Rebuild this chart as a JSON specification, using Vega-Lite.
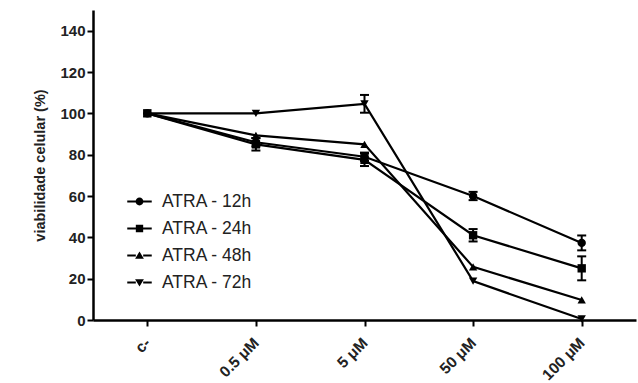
{
  "$schema": "https://vega.github.io/schema/vega-lite/v6.json",
  "autosize": "none",
  "padding": {"left": 93, "top": 10, "right": 2, "bottom": 63},
  "width": 543,
  "height": 310,
  "background": "white",
  "config": {
    "view": {"stroke": null},
    "font": "Liberation Sans"
  },
  "data": {
    "values": [
      {"dose": "c-", "series": "ATRA - 12h", "value": 100, "err": 0},
      {"dose": "0.5 μM", "series": "ATRA - 12h", "value": 86, "err": 2},
      {"dose": "5 μM", "series": "ATRA - 12h", "value": 79, "err": 2},
      {"dose": "50 μM", "series": "ATRA - 12h", "value": 60, "err": 2},
      {"dose": "100 μM", "series": "ATRA - 12h", "value": 37.3, "err": 3.6},
      {"dose": "c-", "series": "ATRA - 24h", "value": 100, "err": 0},
      {"dose": "0.5 μM", "series": "ATRA - 24h", "value": 85, "err": 3},
      {"dose": "5 μM", "series": "ATRA - 24h", "value": 77.5, "err": 3},
      {"dose": "50 μM", "series": "ATRA - 24h", "value": 41, "err": 3},
      {"dose": "100 μM", "series": "ATRA - 24h", "value": 25, "err": 5.8},
      {"dose": "c-", "series": "ATRA - 48h", "value": 100, "err": 0},
      {"dose": "0.5 μM", "series": "ATRA - 48h", "value": 89.3, "err": 0},
      {"dose": "5 μM", "series": "ATRA - 48h", "value": 85, "err": 0},
      {"dose": "50 μM", "series": "ATRA - 48h", "value": 25.7, "err": 0},
      {"dose": "100 μM", "series": "ATRA - 48h", "value": 9.7, "err": 0},
      {"dose": "c-", "series": "ATRA - 72h", "value": 100, "err": 0},
      {"dose": "0.5 μM", "series": "ATRA - 72h", "value": 100, "err": 0},
      {"dose": "5 μM", "series": "ATRA - 72h", "value": 104.6, "err": 4.3},
      {"dose": "50 μM", "series": "ATRA - 72h", "value": 18.8, "err": 0},
      {"dose": "100 μM", "series": "ATRA - 72h", "value": 0.5, "err": 0}
    ]
  },
  "encoding": {
    "x": {
      "field": "dose", "type": "ordinal",
      "sort": ["c-", "0.5 μM", "5 μM", "50 μM", "100 μM"],
      "scale": {"type": "point", "padding": 0.5},
      "axis": {
        "title": null, "labelAngle": -45, "labelAlign": "right", "labelBaseline": "middle",
        "labelFontSize": 15.5, "labelFontWeight": "bold",
        "labelColor": "#222", "domainColor": "black", "domainWidth": 2.5, "tickColor": "black",
        "tickWidth": 2, "tickSize": 6, "labelPadding": 14, "grid": false
      }
    },
    "y": {
      "field": "value", "type": "quantitative",
      "scale": {"domain": [0, 150], "nice": false, "zero": true},
      "axis": {
        "title": "viabilidade celular (%)", "values": [0, 20, 40, 60, 80, 100, 120, 140],
        "titleFontSize": 14.5, "titleFontWeight": "bold", "titleColor": "#222", "titlePadding": 12,
        "labelFontSize": 15, "labelFontWeight": "bold", "labelColor": "#222",
        "domainColor": "black", "domainWidth": 2.5, "tickColor": "black", "tickWidth": 2,
        "tickSize": 6, "labelPadding": 2, "grid": false
      }
    }
  },
  "layer": [
    {
      "mark": {"type": "line", "color": "black"},
      "encoding": {
        "detail": {"field": "series"},
        "strokeWidth": {
          "field": "series", "type": "nominal",
          "scale": {"domain": ["ATRA - 12h", "ATRA - 24h", "ATRA - 48h", "ATRA - 72h"], "range": [2.2, 2.2, 1.7, 1.3]},
          "legend": null
        }
      }
    },
    {
      "transform": [
        {"filter": "datum.err > 0"},
        {"calculate": "datum.value - datum.err", "as": "lo"},
        {"calculate": "datum.value + datum.err", "as": "hi"}
      ],
      "layer": [
        {
          "mark": {"type": "rule", "color": "black", "strokeWidth": 2},
          "encoding": {"y": {"field": "lo", "type": "quantitative"}, "y2": {"field": "hi"}}
        },
        {
          "mark": {"type": "tick", "color": "black", "thickness": 2, "size": 9, "opacity": 1},
          "encoding": {"y": {"field": "lo", "type": "quantitative"}}
        },
        {
          "mark": {"type": "tick", "color": "black", "thickness": 2, "size": 9, "opacity": 1},
          "encoding": {"y": {"field": "hi", "type": "quantitative"}}
        }
      ]
    },
    {
      "mark": {"type": "point", "filled": true, "color": "black", "opacity": 1, "size": 70},
      "encoding": {
        "shape": {
          "field": "series", "type": "nominal",
          "scale": {"domain": ["ATRA - 12h", "ATRA - 24h", "ATRA - 48h", "ATRA - 72h"], "range": ["circle", "square", "triangle-up", "triangle-down"]},
          "legend": null
        }
      }
    },
    {
      "mark": {"type": "point", "filled": true, "color": "black", "opacity": 0, "size": 70},
      "encoding": {
        "shape": {
          "field": "series", "type": "nominal",
          "scale": {
            "domain": ["ATRA - 12h", "ATRA - 24h", "ATRA - 48h", "ATRA - 72h"],
            "range": [
              "M-1,-0.09H-0.28V0.09H-1Z M0.28,-0.09H1V0.09H0.28Z M0.32,0A0.32,0.32 0 1,1 -0.32,0A0.32,0.32 0 1,1 0.32,0Z",
              "M-1,-0.09H-0.3V0.09H-1Z M0.3,-0.09H1V0.09H0.3Z M-0.3,-0.3H0.3V0.3H-0.3Z",
              "M-1,-0.09H-0.3V0.09H-1Z M0.3,-0.09H1V0.09H0.3Z M0,-0.32L0.36,0.26L-0.36,0.26Z",
              "M-1,-0.09H-0.3V0.09H-1Z M0.3,-0.09H1V0.09H0.3Z M0,0.32L0.36,-0.26L-0.36,-0.26Z"
            ]
          },
          "legend": {
            "title": null, "orient": "none", "legendX": 34, "legendY": 179,
            "symbolSize": 600, "symbolFillColor": "black", "symbolStrokeWidth": 0,
            "symbolOpacity": 1, "labelFontSize": 17.5, "labelColor": "#222",
            "labelOffset": 10, "rowPadding": 6, "padding": 0
          }
        }
      }
    }
  ],
  "resolve": {"scale": {"shape": "independent"}, "legend": {"shape": "independent"}}
}
